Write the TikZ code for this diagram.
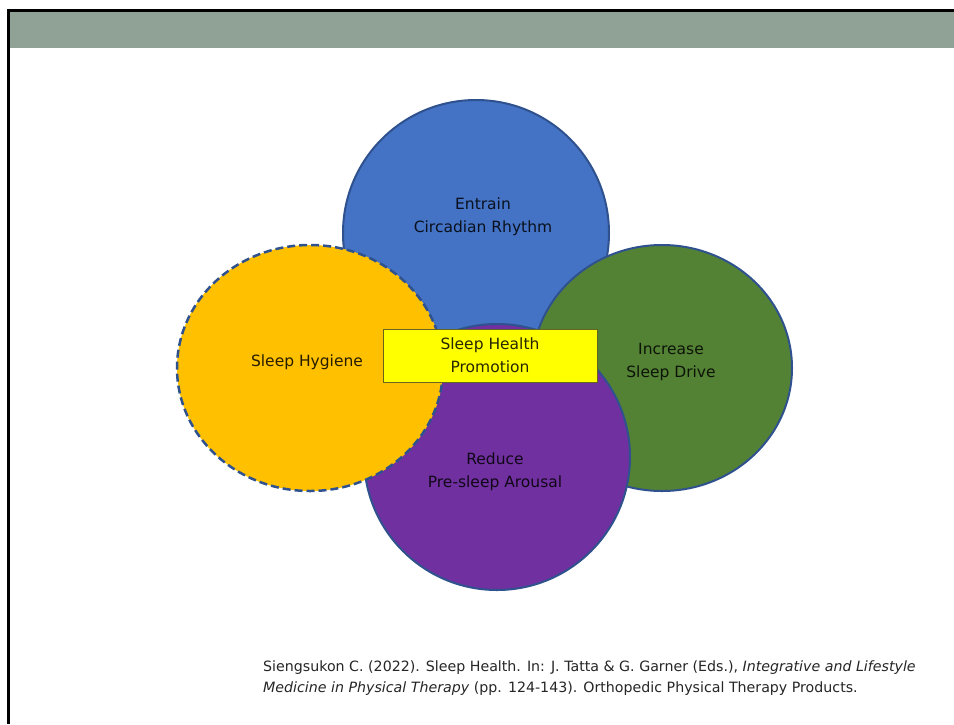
\documentclass[tikz,border=0pt]{standalone}
\usepackage{fontspec}
\setmainfont{DejaVu Sans}
\usetikzlibrary{shapes.geometric}
\definecolor{band}{RGB}{144,161,150}
\definecolor{cblue}{RGB}{68,114,196}
\definecolor{cgreen}{RGB}{84,130,53}
\definecolor{cpurple}{RGB}{112,48,160}
\definecolor{corange}{RGB}{255,192,0}
\definecolor{cyellow}{RGB}{255,255,0}
\definecolor{edgeblue}{RGB}{47,82,143}
\definecolor{boxedge}{RGB}{100,100,30}
\begin{document}
\begin{tikzpicture}[x=1pt,y=-1pt,
  blob/.style={draw=edgeblue, line width=2pt, ellipse, inner sep=0pt},
  lbl/.style={align=center, font=\fontsize{15.5}{23}\selectfont, text=black, text opacity=0.85, inner sep=0pt},
  cite/.style={anchor=base west, font=\fontsize{14.2}{21}\selectfont, inner sep=0pt, text=black!85}]
\useasboundingbox (0,0) rectangle (954,724);
\fill[white] (0,0) rectangle (954,724);
\fill[band] (9,12) rectangle (954,48);
\draw[line width=3pt, line join=miter] (8,724) -- (8,10.5) -- (954,10.5);

\node[blob, fill=cblue, minimum width=266, minimum height=266] (entrain) at (476,233) {};
\node[blob, fill=cgreen, minimum width=260, minimum height=246] (drive) at (662,368) {};
\node[blob, fill=cpurple, minimum width=266, minimum height=266] (arousal) at (497,457) {};
\node[blob, fill=corange, dash pattern=on 8pt off 4pt, line width=2.5pt, minimum width=266, minimum height=246] (hygiene) at (310,368) {};

\node[draw=boxedge, fill=cyellow, line width=1pt, minimum width=214, minimum height=53, lbl] (promo) at (490,355.5) {Sleep Health\\Promotion};

\node[lbl] (tEntrain) at (483,217) {Entrain\\Circadian Rhythm};
\node[lbl] (tHygiene) at (307,362) {Sleep Hygiene};
\node[lbl] (tDrive) at (671,361.5) {Increase\\Sleep Drive};
\node[lbl] (tArousal) at (495,471.5) {Reduce\\Pre-sleep Arousal};

\node[cite] (cite1) at (263,671) {Siengsukon C. (2022). Sleep Health. In: J. Tatta \& G. Garner (Eds.), \textit{Integrative and Lifestyle}};
\node[cite] (cite2) at (263,692) {\textit{Medicine in Physical Therapy} (pp. 124-143). Orthopedic Physical Therapy Products.};
\end{tikzpicture}
\end{document}
